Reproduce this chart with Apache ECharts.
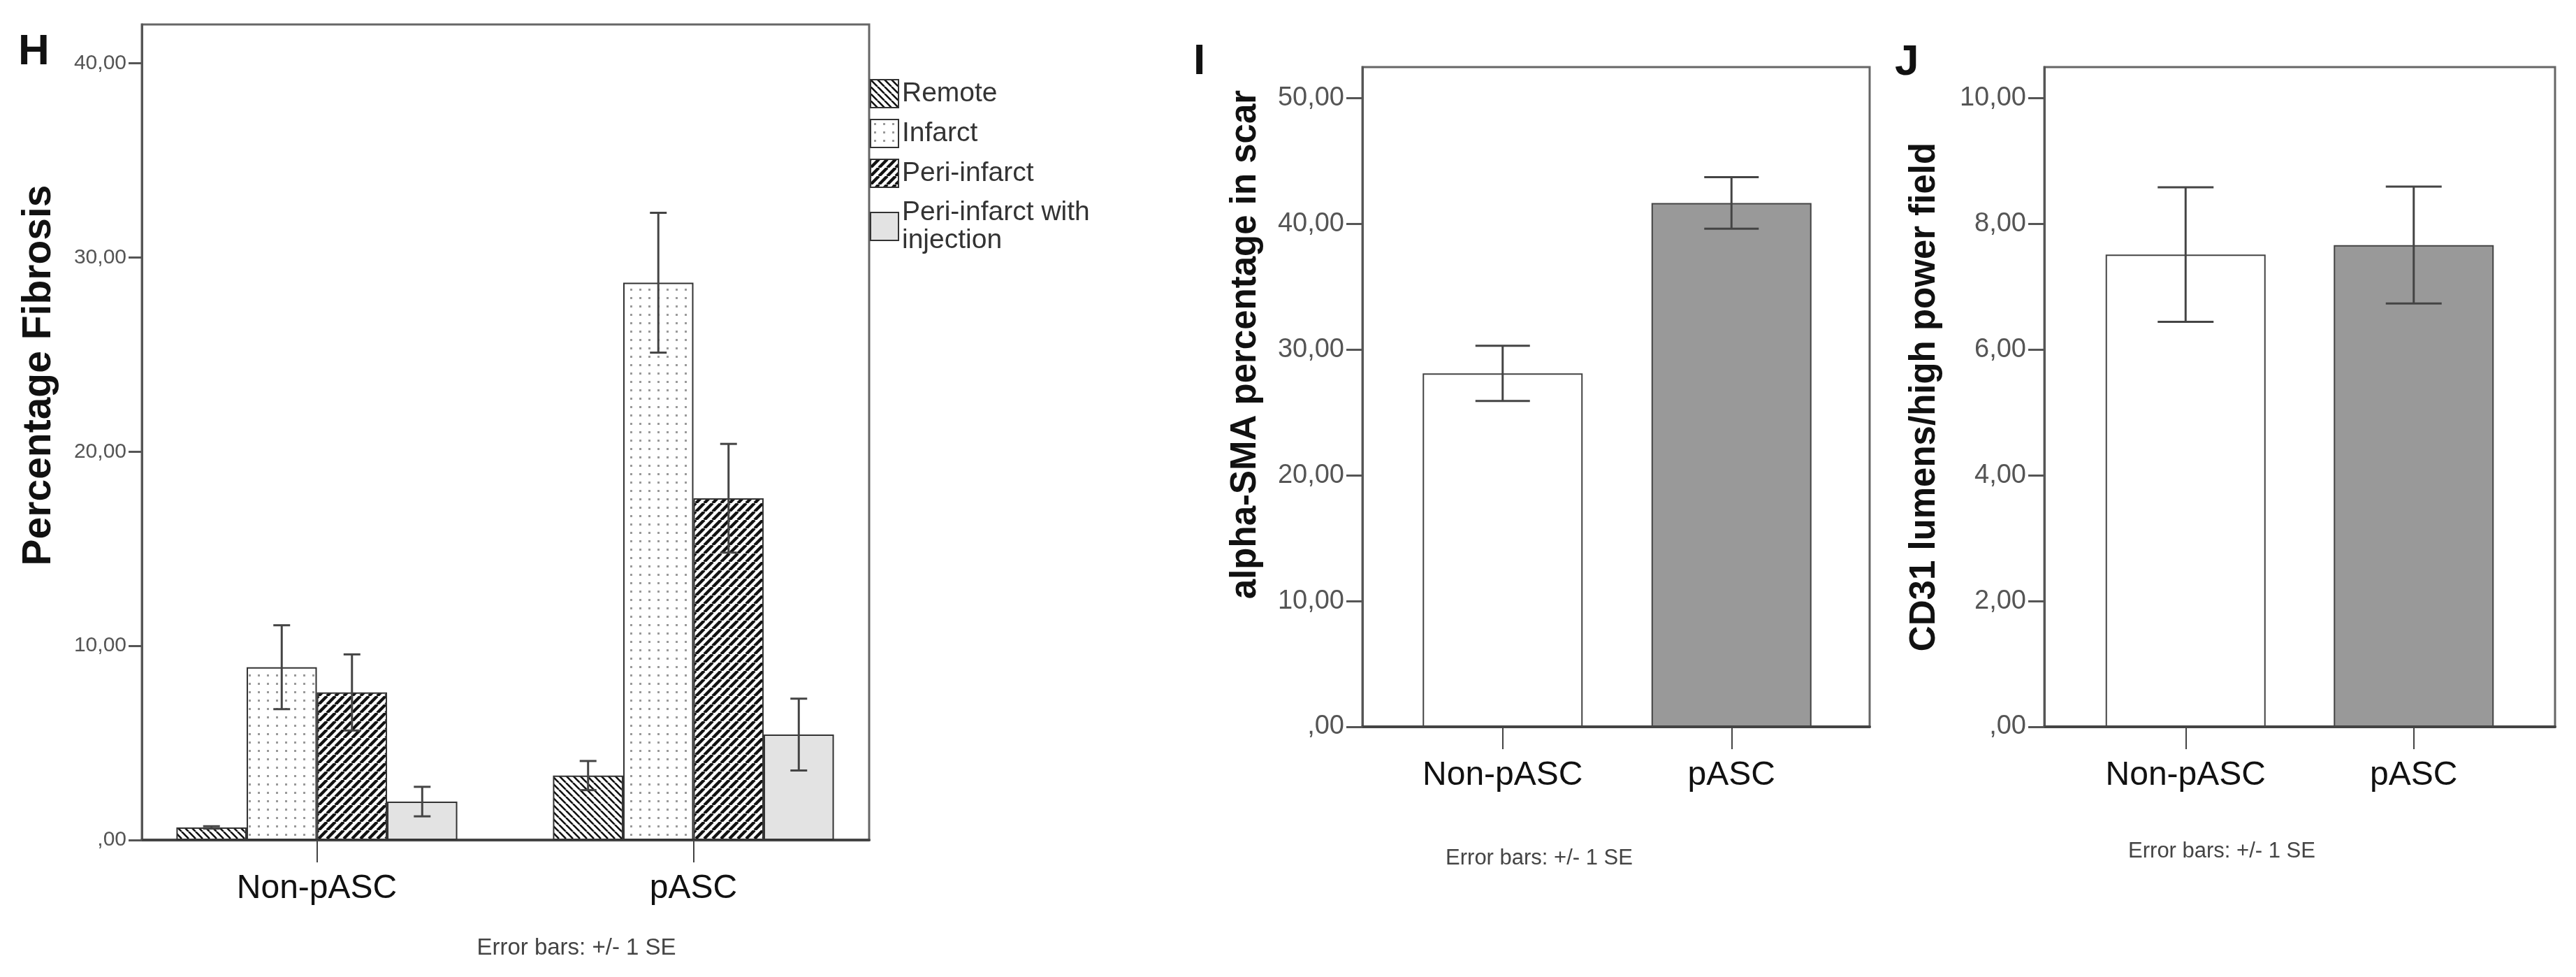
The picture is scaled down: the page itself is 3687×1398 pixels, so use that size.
<!DOCTYPE html>
<html>
<head>
    <meta charset="utf-8">
    <script src="https://cdn.jsdelivr.net/npm/echarts@6/dist/echarts.min.js"></script>
    <style>
        html, body { margin: 0; padding: 0; background: #fff; }
        #main { width: 3687px; height: 1398px; }
    </style>
</head>
<body>
<div id="main"></div>
<script type="text/javascript">
    // categories
    var groups = ['Non-pASC', 'pASC'];
    var regions = ['Remote', 'Infarct', 'Peri-infarct', 'Peri-infarct with\ninjection'];

    // H: percentage fibrosis (mean, SE) per region, [Non-pASC, pASC]
    var remoteMean = [0.65, 3.32];
    var remoteSE = [0.06, 0.75];
    var infarctMean = [8.9, 28.7];
    var infarctSE = [2.16, 3.6];
    var periMean = [7.6, 17.6];
    var periSE = [1.96, 2.8];
    var periInjMean = [1.98, 5.43];
    var periInjSE = [0.76, 1.85];

    // I: alpha-SMA percentage in scar
    var smaMean = [28.1, 41.65];
    var smaSE = [2.2, 2.05];

    // J: CD31 lumens/high power field
    var cd31Mean = [7.51, 7.66];
    var cd31SE = [1.07, 0.93];

    // tick labels
    var fibrosisTicks = [0, 10, 20, 30, 40];
    var smaTicks = [0, 10, 20, 30, 40, 50];
    var cd31Ticks = [0, 2, 4, 6, 8, 10];

    var FONT = 'Liberation Sans, Arial, sans-serif';

    // fill patterns (SPSS style)
    function stripes(p, w, dir) {
        var c = document.createElement('canvas');
        c.width = p; c.height = p;
        var ctx = c.getContext('2d');
        ctx.fillStyle = '#fff';
        ctx.fillRect(0, 0, p, p);
        ctx.strokeStyle = '#111';
        ctx.lineWidth = w;
        for (var k = -1; k <= 1; k++) {
            ctx.beginPath();
            if (dir === '\\') {
                ctx.moveTo(k * p, 0); ctx.lineTo(k * p + p, p);
            } else {
                ctx.moveTo(k * p, p); ctx.lineTo(k * p + p, 0);
            }
            ctx.stroke();
        }
        return c;
    }
    function dots() {
        var c = document.createElement('canvas');
        c.width = 13; c.height = 12;
        var ctx = c.getContext('2d');
        ctx.fillStyle = '#fff';
        ctx.fillRect(0, 0, 13, 12);
        ctx.fillStyle = '#9a9a9a';
        ctx.fillRect(5, 5, 3, 3);
        return c;
    }
    var fills = [
        { image: stripes(10, 2.6, '\\'), repeat: 'repeat' },
        { image: dots(), repeat: 'repeat' },
        { image: stripes(12, 4.4, '/'), repeat: 'repeat' },
        '#e3e3e3'
    ];

    function fmt(v) {
        return v === 0 ? ',00' : v.toFixed(2).replace('.', ',');
    }

    function errSeries(xi, yi, items, capW, nPer, catGap) {
        return {
            type: 'custom', xAxisIndex: xi, yAxisIndex: yi, z: 10, silent: true,
            data: items,
            renderItem: function (params, api) {
                var g = api.value(0), k = api.value(1), lo = api.value(2), hi = api.value(3);
                var band = api.size([1, 0])[0];
                var groupW = band * (1 - catGap);
                var bw = groupW / nPer;
                var cx = api.coord([g, 0])[0] - groupW / 2 + (k + 0.5) * bw;
                var y0 = api.coord([g, lo])[1], y1 = api.coord([g, hi])[1];
                var st = { stroke: '#444', lineWidth: 3 };
                return {
                    type: 'group', children: [
                        { type: 'line', shape: { x1: cx, y1: y0, x2: cx, y2: y1 }, style: st },
                        { type: 'line', shape: { x1: cx - capW / 2, y1: y0, x2: cx + capW / 2, y2: y0 }, style: st },
                        { type: 'line', shape: { x1: cx - capW / 2, y1: y1, x2: cx + capW / 2, y2: y1 }, style: st }
                    ]
                };
            }
        };
    }

    function frameGrid(l, t, w, h) {
        return { left: l, top: t, width: w, height: h, show: true, borderColor: '#666', borderWidth: 3 };
    }
    function frameX(gi) {
        return {
            type: 'value', gridIndex: gi, min: 0, max: 1,
            axisLine: { show: true, lineStyle: { color: '#444', width: 4 } },
            axisTick: { show: false }, axisLabel: { show: false }, splitLine: { show: false }
        };
    }
    function dataX(gi) {
        return {
            type: 'category', gridIndex: gi, data: groups,
            axisLine: { show: false },
            axisTick: { show: true, alignWithLabel: true, length: 32, lineStyle: { color: '#444', width: 2 } },
            axisLabel: { fontSize: 48, color: '#111', margin: 46, fontFamily: FONT }
        };
    }
    function frameY(gi, max, ticks, fs, tickLen, margin) {
        return {
            type: 'value', gridIndex: gi, min: 0, max: max,
            axisLine: { show: true, lineStyle: { color: '#555', width: 3 } },
            axisTick: { show: true, length: tickLen, customValues: ticks, lineStyle: { color: '#555', width: 3 } },
            axisLabel: { customValues: ticks, formatter: fmt, fontSize: fs, color: '#555', margin: margin, fontFamily: FONT },
            splitLine: { show: false }
        };
    }
    function dataY(gi, max) {
        return { type: 'value', gridIndex: gi, min: 0, max: max, show: false, splitLine: { show: false } };
    }

    var hMeans = [remoteMean, infarctMean, periMean, periInjMean];
    var hSEs = [remoteSE, infarctSE, periSE, periInjSE];
    var hCatGap = 0.254;

    var series = [];
    regions.forEach(function (name, r) {
        series.push({
            name: name, type: 'bar', xAxisIndex: 1, yAxisIndex: 1,
            barGap: '0%', barCategoryGap: (hCatGap * 100) + '%',
            itemStyle: { color: fills[r], borderColor: '#333', borderWidth: 2 },
            data: hMeans[r]
        });
    });
    var hErr = [];
    regions.forEach(function (name, r) {
        groups.forEach(function (g, i) {
            hErr.push([i, r, hMeans[r][i] - hSEs[r][i], hMeans[r][i] + hSEs[r][i]]);
        });
    });
    series.push(errSeries(1, 1, hErr, 24, 4, hCatGap));

    var twoColors = ['#ffffff', '#999999'];
    function simpleBars(xi, yi, means) {
        return {
            type: 'bar', xAxisIndex: xi, yAxisIndex: yi, barWidth: 229,
            data: means.map(function (v, i) {
                return { value: v, itemStyle: { color: twoColors[i], borderColor: '#444', borderWidth: 2 } };
            })
        };
    }
    series.push(simpleBars(3, 3, smaMean));
    series.push(errSeries(3, 3, smaMean.map(function (m, i) { return [i, 0, m - smaSE[i], m + smaSE[i]]; }), 78, 1, 0));
    series.push(simpleBars(5, 5, cd31Mean));
    series.push(errSeries(5, 5, cd31Mean.map(function (m, i) { return [i, 0, m - cd31SE[i], m + cd31SE[i]]; }), 80, 1, 0));

    function txt(x, y, s, size, opts) {
        opts = opts || {};
        return {
            type: 'text', x: x, y: y, rotation: opts.rot || 0, silent: true,
            style: {
                text: s, fontSize: size, fontWeight: opts.bold ? 'bold' : 'normal',
                fontFamily: FONT, fill: opts.color || '#111',
                align: opts.align || 'center', verticalAlign: 'middle'
            }
        };
    }

    var myChart = echarts.init(document.getElementById('main'));
    var option = {
        backgroundColor: '#fff',
        animation: false,
        grid: [
            frameGrid(203, 35, 1041, 1167),
            { left: 184, top: 35, width: 1078, height: 1167 },
            frameGrid(1950, 96, 726, 944),
            { left: 1987, top: 96, width: 655, height: 944 },
            frameGrid(2926, 96, 731, 944),
            { left: 2965, top: 96, width: 653, height: 944 }
        ],
        xAxis: [frameX(0), dataX(1), frameX(2), dataX(3), frameX(4), dataX(5)],
        yAxis: [
            frameY(0, 42, fibrosisTicks, 30, 19, 22), dataY(1, 42),
            frameY(2, 52.45, smaTicks, 38, 23, 26), dataY(3, 52.45),
            frameY(4, 10.49, cd31Ticks, 38, 23, 26), dataY(5, 10.49)
        ],
        legend: {
            orient: 'vertical', left: 1245, top: 113, padding: 0,
            itemWidth: 40, itemHeight: 40, itemGap: 15, icon: 'rect',
            selectedMode: false,
            data: regions,
            textStyle: { fontSize: 39, lineHeight: 40, color: '#333', fontFamily: FONT }
        },
        graphic: [
            txt(26, 75, 'H', 62, { bold: true, align: 'left' }),
            txt(1708, 89, 'I', 62, { bold: true, align: 'left' }),
            txt(2712, 90, 'J', 62, { bold: true, align: 'left' }),
            txt(56, 537, 'Percentage Fibrosis', 57, { bold: true, rot: Math.PI / 2 }),
            txt(1783, 493, 'alpha-SMA percentage in scar', 51, { bold: true, rot: Math.PI / 2 }),
            txt(2755, 568, 'CD31 lumens/high power field', 51, { bold: true, rot: Math.PI / 2 }),
            txt(825, 1357, 'Error bars: +/- 1 SE', 33, { color: '#444' }),
            txt(2203, 1228, 'Error bars: +/- 1 SE', 31, { color: '#444' }),
            txt(3180, 1218, 'Error bars: +/- 1 SE', 31, { color: '#444' })
        ],
        series: series
    };
    myChart.setOption(option);
</script>
</body>
</html>
